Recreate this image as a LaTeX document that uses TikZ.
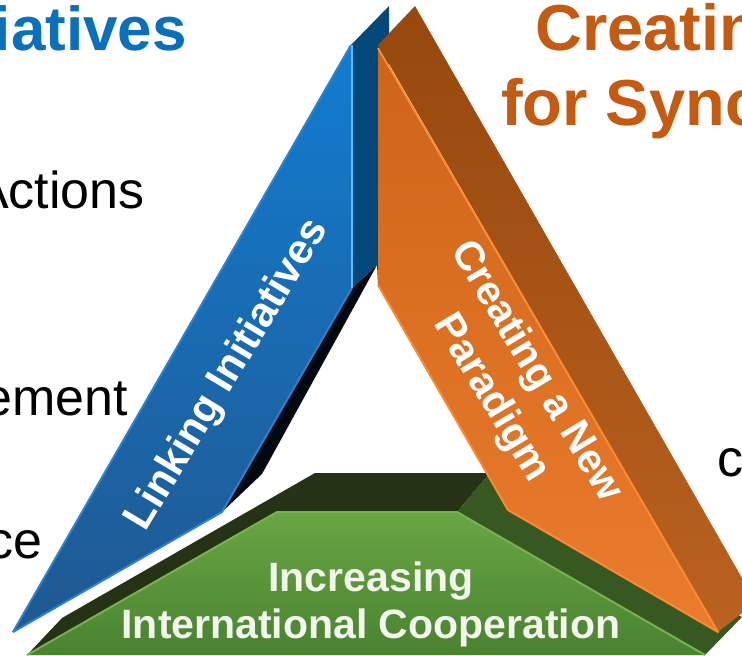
\documentclass[tikz,border=0pt]{standalone}
\usepackage{fontspec}
\setmainfont{Liberation Sans}
\definecolor{titleblue}{HTML}{0B70BC}
\definecolor{titleorange}{HTML}{C55A11}
\definecolor{offwhite}{HTML}{F2F6EC}
\begin{document}
\begin{tikzpicture}[x=1pt,y=-1pt,
  facetext/.style={font=\bfseries\fontsize{41}{47}\selectfont,text=white,align=center,inner sep=0pt},
  bodytext/.style={font=\fontsize{52}{60}\selectfont,text=black,inner sep=0pt},
  headblue/.style={font=\bfseries\fontsize{62}{75}\selectfont,text=titleblue,inner sep=0pt},
  headorange/.style={font=\bfseries\fontsize{65}{75}\selectfont,text=titleorange,inner sep=0pt},
  rim/.style={line width=2pt,line join=round}]
\useasboundingbox (0,0) rectangle (742,656);
\clip (0,0) rectangle (742,656);
\fill[white] (0,0) rectangle (742,656);
% texts behind
\node[headblue,anchor=base east] (t1) at (187,50) {iatives};
\node[headorange,anchor=base west] (t2) at (535,50) {Creating};
\node[headorange,anchor=base west] (t3) at (501,125) {for Sync};
\node[bodytext,anchor=base east] (b1) at (145,208) {Actions};
\node[bodytext,anchor=base east] (b2) at (128,415) {ement};
\node[bodytext,anchor=base east] (b3) at (43,558) {ce};
\node[bodytext,anchor=base west] (b4) at (717,476) {c};
% green prism
\fill[color={rgb,255:red,38;green,50;blue,22}] (27,655) -- (62,618) -- (315,473) -- (490,473) -- (457,512) -- (277,512) -- cycle;
\fill[color={rgb,255:red,56;green,88;blue,34}] (457,512) -- (490,473) -- (742,617) -- (705,655) -- cycle;
\shade[top color={rgb,255:red,104;green,166;blue,68},bottom color={rgb,255:red,74;green,130;blue,48}]
  (27,655) -- (277,512) -- (457,512) -- (705,655) -- cycle;
\draw[rim,color={rgb,255:red,118;green,178;blue,78}] (27,655) -- (277,512) -- (457,512) -- (705,655);
% blue prism
\fill[color={rgb,255:red,2;green,8;blue,16}] (222,512) -- (352,288) -- (377,265) -- (262,474) -- cycle;
\fill[color={rgb,255:red,4;green,72;blue,122}] (351,45) -- (389,6) -- (389,60) -- (378,285) -- (377,265) -- (352,288) -- cycle;
\shade[top color={rgb,255:red,18;green,124;blue,208},bottom color={rgb,255:red,32;green,88;blue,144}]
  (13,632) -- (351,45) -- (352,288) -- (222,512) -- cycle;
\draw[rim,color={rgb,255:red,44;green,130;blue,205}] (13,632) -- (351,45);
\draw[rim,color={rgb,255:red,44;green,130;blue,205}] (352,288) -- (222,512) -- (13,632);
\draw[line width=2pt,color={rgb,255:red,90;green,190;blue,245}] (351.5,45) -- (351.5,288);
% orange prism
\shade[top color={rgb,255:red,150;green,72;blue,14},bottom color={rgb,255:red,186;green,98;blue,32}]
  (378,45) -- (415,6) -- (742,578) -- (742,613) -- (718,632) -- cycle;
\shade[top color={rgb,255:red,206;green,100;blue,24},bottom color={rgb,255:red,234;green,124;blue,46}]
  (378,48) -- (718,632) -- (508,510) -- (378,285) -- cycle;
\draw[rim,color={rgb,255:red,252;green,138;blue,50}] (378,48) -- (718,632) -- (508,510) -- (378,285);
% face labels
\node[facetext,rotate=59,font=\bfseries\fontsize{42}{47}\selectfont] (linking) at (228,375) {Linking Initiatives};
\node[facetext,rotate=-59,font=\bfseries\fontsize{41}{52}\selectfont] (creating) at (513,385) {Creating a New\\Paradigm};
\node[facetext,text=offwhite] (incr) at (371,604) {Increasing\\International Cooperation};
\end{tikzpicture}
\end{document}
